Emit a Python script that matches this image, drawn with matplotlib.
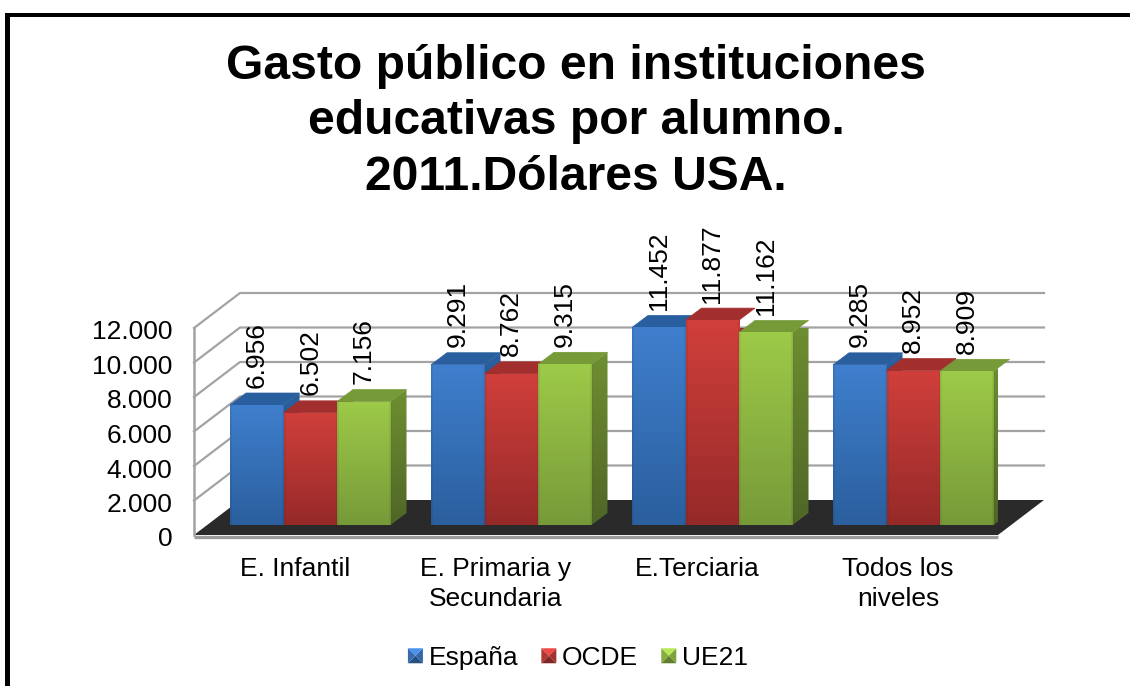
import numpy as np
import matplotlib
matplotlib.use("Agg")
import matplotlib.pyplot as plt
from matplotlib.colors import to_rgb
from matplotlib.patches import Polygon, Rectangle, Patch
from matplotlib.legend_handler import HandlerBase
from matplotlib.transforms import Affine2D

categories = ["E. Infantil", "E. Primaria y\nSecundaria", "E.Terciaria", "Todos los\nniveles"]
series_names = ["España", "OCDE", "UE21"]
espana = [6956, 9291, 11452, 9285]
ocde = [6502, 8762, 11877, 8952]
ue21 = [7156, 9315, 11162, 8909]
y_ticks = [0, 2000, 4000, 6000, 8000, 10000, 12000]
title = "Gasto público en instituciones\neducativas por alumno.\n2011.Dólares USA."

# top colour, bottom colour, roof colour, side top, side bottom
palette = [
    ("#3f7fcd", "#2b5f9e", "#2a5f9f", "#2c5f9e", "#234d80"),
    ("#d03f3b", "#962a29", "#a22e2d", "#a22e2d", "#7a2322"),
    ("#9dca48", "#779a39", "#769a38", "#6f8f32", "#4f6626"),
]

plt.rcParams["font.family"] = ["Liberation Sans", "DejaVu Sans"]
W, H = 1130, 686
fig = plt.figure(figsize=(W / 100, H / 100), dpi=100, facecolor="white")
ax = fig.add_axes([194 / W, (H - 535) / H, 804 / W, 207 / H])
ax.set_xlim(0, 4)
ax.set_ylim(0, 12000)
ax.patch.set_visible(False)

px_x = 4 / 804
px_y = 12000 / 207
wall_dx, wall_dy = 46 * px_x, 35 * px_y
bar_dx, bar_dy = 16 * px_x, 12 * px_y
base = 10 * px_y
group_off = 36 * px_x
bar_w = 53.5 * px_x
GRID = "#a3a3a3"

# walls
for v in y_ticks:
    if v > 0:
        ax.plot([0, wall_dx, 4 + wall_dx],
                [v, v + wall_dy, v + wall_dy],
                color=GRID, lw=1.6, clip_on=False, zorder=1, solid_joinstyle="miter")

# floor
ax.add_patch(Polygon([(0, 0), (4, 0), (4 + wall_dx, wall_dy), (wall_dx, wall_dy)],
                     closed=True, facecolor="#2a2a2a", edgecolor="none", clip_on=False, zorder=2))
ax.plot([0, 4], [-1.5 * px_y, -1.5 * px_y], color="#9a9a9a", lw=2.4, clip_on=False, zorder=2,
        solid_capstyle="butt")
ax.plot([0, 0], [0, 12000], color=GRID, lw=1.8, clip_on=False, zorder=2)


def gradient(c_top, c_bot):
    t = np.array(to_rgb(c_top))
    b = np.array(to_rgb(c_bot))
    n = 64
    frac = np.linspace(0, 1, n)[:, None, None]
    img = np.repeat((t * (1 - frac) + b * frac), n, axis=1)
    edge = np.ones(n)
    edge[:2] = 0.92
    edge[-2:] = 0.92
    return np.clip(img * edge[None, :, None], 0, 1)


# bars
z = 3.0
for s, vals in enumerate([espana, ocde, ue21]):
    top, bot, roof, s_top, s_bot = palette[s]
    xs = np.arange(4) + group_off + bar_w * (s + 0.5)
    for x, v in zip(xs, vals):
        x0, x1 = x - bar_w / 2, x + bar_w / 2
        y0, y1 = base, base + v
        side = Polygon([(x1, y0), (x1 + bar_dx, y0 + bar_dy), (x1 + bar_dx, y1 + bar_dy), (x1, y1)],
                       closed=True, facecolor="none", edgecolor="none", clip_on=False, zorder=z)
        ax.add_patch(side)
        im = ax.imshow(gradient(s_top, s_bot), extent=(x1, x1 + bar_dx, y0, y1 + bar_dy), aspect="auto",
                       interpolation="bilinear", zorder=z)
        im.set_clip_path(side)
        ax.add_patch(Polygon([(x0, y1), (x1, y1), (x1 + bar_dx, y1 + bar_dy), (x0 + bar_dx, y1 + bar_dy)],
                             closed=True, facecolor=roof, edgecolor=roof, lw=0.5, joinstyle="round",
                             clip_on=False, zorder=z + 0.1))
        rect = ax.bar(x, v, width=bar_w, bottom=base, color=top, clip_on=False, zorder=z + 0.2)[0]
        im2 = ax.imshow(gradient(top, bot), extent=(x0, x1, y0, y1), aspect="auto",
                        interpolation="bilinear", zorder=z + 0.3)
        im2.set_clip_path(rect)
        ax.text(x, y1 + bar_dy + 5.5 * px_y, f"{v:,}".replace(",", "."), rotation=90,
                ha="center", va="bottom", fontsize=19, color="black", zorder=10)
        z += 1

ax.set_xlim(0, 4)
ax.set_ylim(0, 12000)

# axes
for sp in ax.spines.values():
    sp.set_visible(False)
ax.set_yticks(y_ticks)
ax.set_yticklabels([f"{v:,}".replace(",", ".") for v in y_ticks], fontsize=19)
ax.set_xticks(np.arange(4) + 0.5)
ax.set_xticklabels(categories, fontsize=19, linespacing=1.3)
ax.tick_params(axis="y", length=0, pad=15.5)
ax.tick_params(axis="x", length=0, pad=16)
for lab in ax.get_yticklabels():
    lab.set_transform(lab.get_transform() + Affine2D().translate(0, -2))
for lab in ax.get_xticklabels():
    lab.set_transform(lab.get_transform() + Affine2D().translate(0.5, 0))

# title
fig.text(576 / W, (H - 122) / H, title, ha="center", va="center", fontsize=34.6,
         fontweight="bold", linespacing=1.31, color="black")


# legend
class BevelHandler(HandlerBase):
    def create_artists(self, legend, orig, xd, yd, width, height, fontsize, trans):
        c = np.array(to_rgb(orig.get_facecolor()))
        s = 15 / 100 * 72
        x0 = -xd + (width - s) / 2
        y0 = -yd + (height - s) / 2
        cx, cy = x0 + s / 2, y0 + s / 2
        corners = [(x0, y0), (x0 + s, y0), (x0 + s, y0 + s), (x0, y0 + s)]
        shades = [0.62, 0.8, 1.15, 0.85]
        out = []
        for i, f in enumerate(shades):
            p = Polygon([corners[i], corners[(i + 1) % 4], (cx, cy)], closed=True,
                        facecolor=np.clip(c * f, 0, 1), edgecolor="none", transform=trans)
            out.append(p)
        return out


handles = [Patch(facecolor=palette[i][0], label=series_names[i]) for i in range(3)]
fig.legend(handles=handles, labels=series_names, ncols=3, frameon=False, fontsize=19,
           loc="center", bbox_to_anchor=(578 / W, (H - 658) / H),
           handler_map={Patch: BevelHandler()}, handlelength=0.57, handletextpad=0.22,
           columnspacing=0.87, borderpad=0, borderaxespad=0)

# outer border
fig.add_artist(Rectangle((5 / W, 0), 5 / W, (H - 13) / H, transform=fig.transFigure,
                         facecolor="black", edgecolor="none"))
fig.add_artist(Rectangle((5 / W, (H - 17) / H), (W - 5) / W, 4 / H, transform=fig.transFigure,
                         facecolor="black", edgecolor="none"))

fig.savefig("out.png", dpi=100, facecolor="white")
